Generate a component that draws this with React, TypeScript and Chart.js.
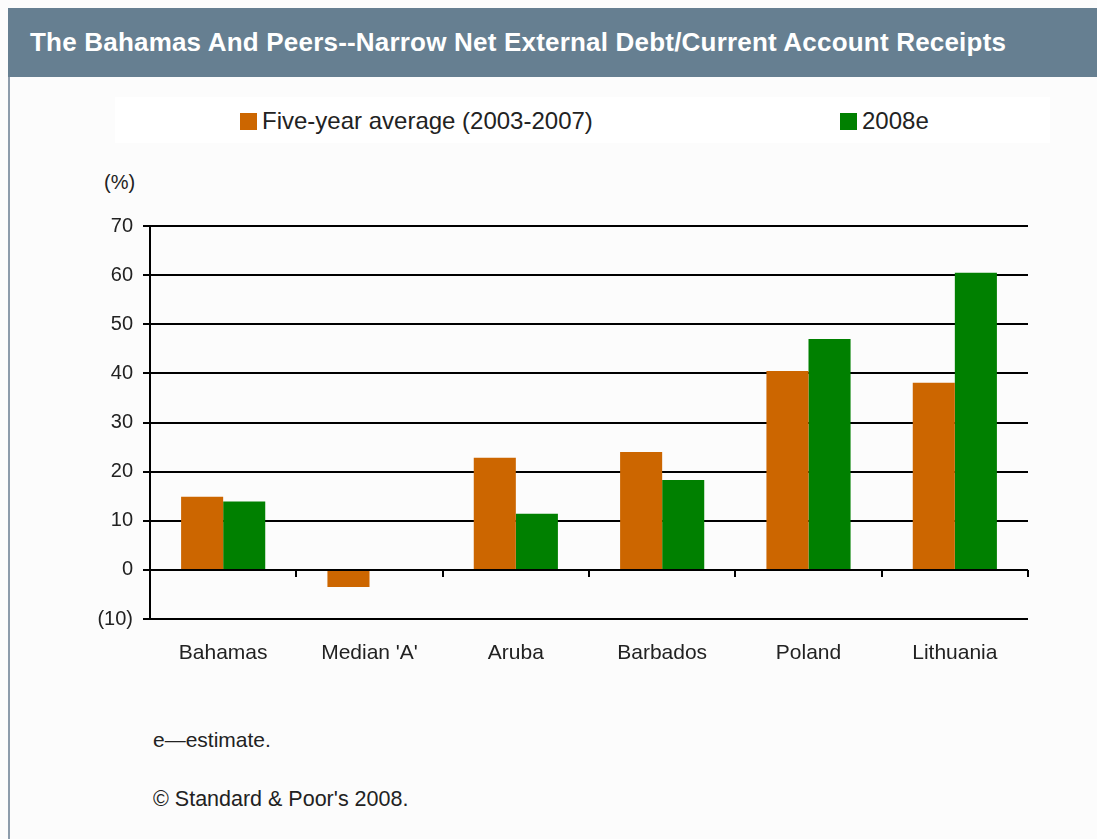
import React, { useEffect, useRef } from "react";
import { Chart, registerables } from "chart.js";

Chart.register(...registerables);

const categories = ["Bahamas", "Median 'A'", "Aruba", "Barbados", "Poland", "Lithuania"];
const fiveYearAvg = [14.9, -3.5, 22.8, 24.0, 40.5, 38.1];
const estimate2008 = [13.9, null, 11.4, 18.3, 47.0, 60.5];
const seriesNames = ["Five-year average (2003-2007)", "2008e"];
const seriesColors = ["#cc6600", "#008000"];
const yTicks = [70, 60, 50, 40, 30, 20, 10, 0, -10];

const FONT = "'Liberation Sans', Arial, sans-serif";

const zeroTicks = {
  id: "zeroTicks",
  afterDatasetsDraw(chart: any) {
    const x = chart.scales.x;
    const y = chart.scales.y;
    const ctx = chart.ctx;
    const y0 = y.getPixelForValue(0);
    ctx.save();
    ctx.strokeStyle = "#000";
    ctx.lineWidth = 2;
    ctx.beginPath();
    for (let i = 0; i <= categories.length; i++) {
      const px = Math.round(x.getPixelForValue(i - 0.5));
      ctx.moveTo(px, y0);
      ctx.lineTo(px, y0 + 7);
    }
    ctx.moveTo(x.left, y0);
    ctx.lineTo(x.right, y0);
    ctx.stroke();
    ctx.restore();
  },
};

export default function App() {
  const ref = useRef<HTMLCanvasElement>(null);
  useEffect(() => {
    const chart = new Chart(ref.current!, {
      type: "bar",
      data: {
        labels: categories,
        datasets: [
          { label: seriesNames[0], data: fiveYearAvg, backgroundColor: seriesColors[0] },
          { label: seriesNames[1], data: estimate2008 as any, backgroundColor: seriesColors[1] },
        ],
      },
      options: {
        animation: false,
        responsive: false,
        maintainAspectRatio: false,
        layout: { padding: { top: 66, left: 0, right: 69, bottom: 0 } },
        plugins: { legend: { display: false }, tooltip: { enabled: false } },
        datasets: { bar: { categoryPercentage: 0.575, barPercentage: 1 } },
        scales: {
          x: {
            grid: { display: false, drawTicks: false },
            border: { display: false },
            ticks: { color: "#222", font: { family: FONT, size: 21 }, padding: 22 },
            afterFit: (s: any) => { s.height = 61; },
          },
          y: {
            min: -10,
            max: 70,
            afterBuildTicks: (s: any) => { s.ticks = yTicks.map((v) => ({ value: v })); },
            grid: { color: "#000", lineWidth: 2, tickLength: 7 },
            border: { display: true, color: "#000", width: 2 },
            ticks: {
              color: "#222",
              font: { family: FONT, size: 20 },
              padding: 10,
              callback: (v: any) => (v < 0 ? `(${-v})` : `${v}`),
            },
            afterFit: (s: any) => { s.width = 150; },
          },
        },
      },
      plugins: [zeroTicks],
    });
    return () => chart.destroy();
  }, []);

  const txt = { fontFamily: FONT, color: "#222", position: "absolute" as const, whiteSpace: "nowrap" as const };

  return (
    <div style={{ position: "fixed", left: 0, top: 0, width: 1097, height: 839, background: "#fcfcfc", overflow: "hidden" }}>
      <div style={{ position: "absolute", left: 8, top: 8, width: 1089, height: 69, background: "#667f91" }}>
        <div style={{ ...txt, color: "#fff", fontWeight: "bold", fontSize: 26, letterSpacing: 0.2, left: 22, top: 19 }}>
          The Bahamas And Peers--Narrow Net External Debt/Current Account Receipts
        </div>
      </div>
      <div style={{ position: "absolute", left: 8, top: 77, width: 2, height: 762, background: "#8d9cab" }} />
      <div style={{ position: "absolute", left: 115, top: 97, width: 935, height: 46, background: "#fff" }} />
      <div style={{ position: "absolute", left: 240, top: 113, width: 17, height: 17, background: seriesColors[0] }} />
      <div style={{ ...txt, fontSize: 24, left: 262, top: 107 }}>{seriesNames[0]}</div>
      <div style={{ position: "absolute", left: 840, top: 113, width: 17, height: 17, background: seriesColors[1] }} />
      <div style={{ ...txt, fontSize: 24, left: 862, top: 107 }}>{seriesNames[1]}</div>
      <div style={{ ...txt, fontSize: 20, left: 104, top: 171 }}>(%)</div>
      <canvas ref={ref} width={1097} height={520} style={{ position: "absolute", left: 0, top: 160 }} />
      <div style={{ ...txt, fontSize: 21, left: 153, top: 728 }}>e—estimate.</div>
      <div style={{ ...txt, fontSize: 21.5, left: 153, top: 787 }}>© Standard &amp; Poor's 2008.</div>
    </div>
  );
}
